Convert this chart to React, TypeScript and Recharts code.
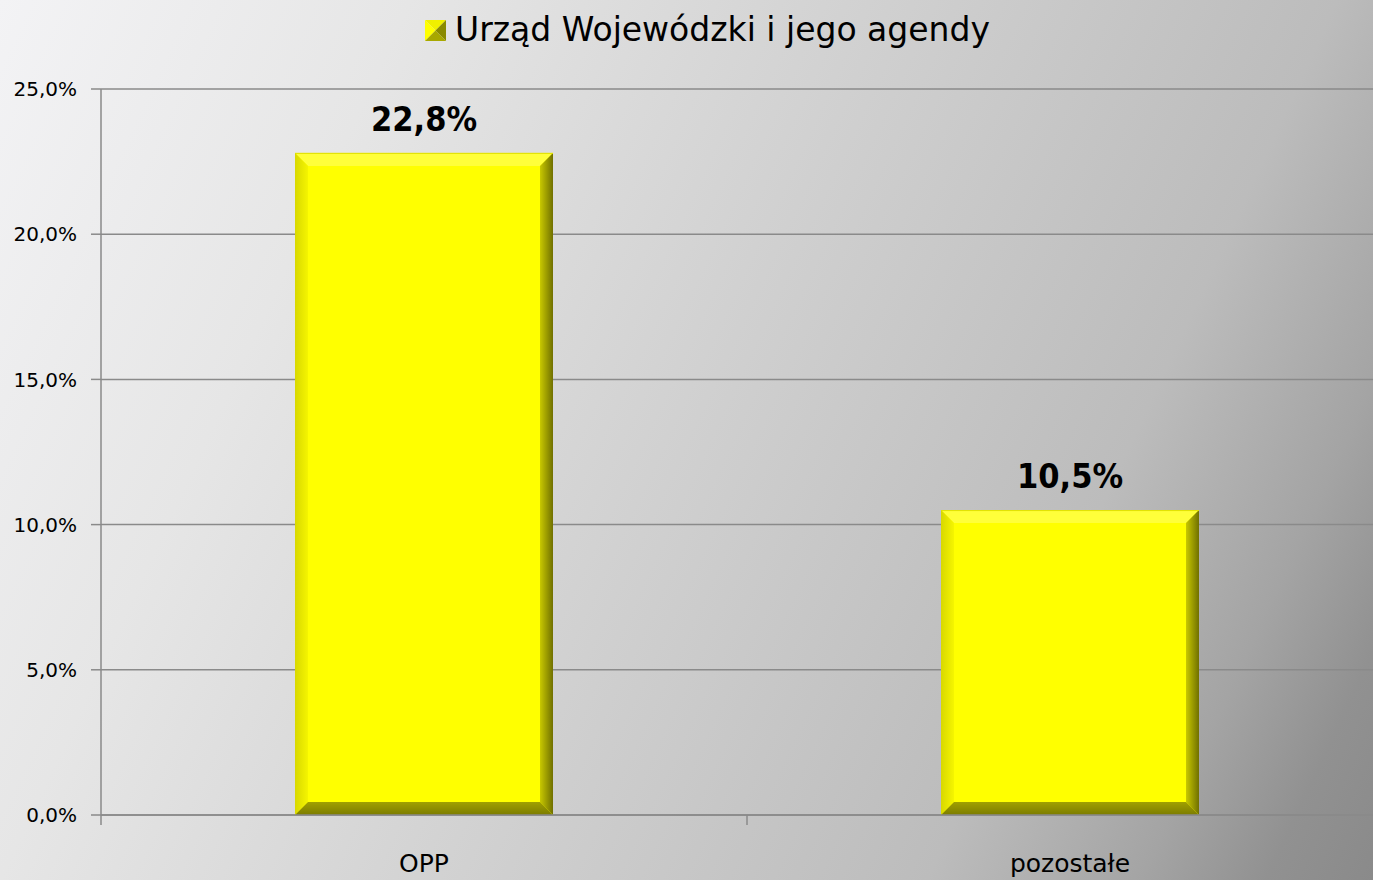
import { BarChart, Bar, XAxis, YAxis, CartesianGrid, Legend, LabelList } from "recharts";

const categories = ["OPP", "pozostałe"];
const values = [22.8, 10.5];
const yTicks = [0, 5, 10, 15, 20, 25];
const seriesName = "Urząd Wojewódzki i jego agendy";

const data = categories.map((name, i) => ({ name, value: values[i] }));

const FONT = "'DejaVu Sans', sans-serif";
const FONT_NARROW = "'DejaVu Sans Condensed', 'DejaVu Sans', sans-serif";
const AXIS = "#8a8a8a";

const pct = (v: number) => v.toFixed(1).replace(".", ",") + "%";

function BevelBar(props: any) {
  const { x, y, width, height } = props;
  if (!height || height <= 0) return null;
  const b = 13;
  const x2 = x + width;
  const y2 = y + height;
  return (
    <g>
      <defs>
        <linearGradient id="bvLeft" x1="0" y1="0" x2="1" y2="0">
          <stop offset="0%" stopColor="#d8d800" />
          <stop offset="100%" stopColor="#f5f500" />
        </linearGradient>
        <linearGradient id="bvRight" x1="0" y1="0" x2="1" y2="0">
          <stop offset="0%" stopColor="#c8c800" />
          <stop offset="100%" stopColor="#707000" />
        </linearGradient>
        <linearGradient id="bvBottom" x1="0" y1="0" x2="0" y2="1">
          <stop offset="0%" stopColor="#a0a000" />
          <stop offset="100%" stopColor="#7c7c00" />
        </linearGradient>
      </defs>
      <rect x={x} y={y} width={width} height={height} fill="#ffff00" />
      <polygon points={`${x},${y} ${x2},${y} ${x2 - b},${y + b} ${x + b},${y + b}`} fill="#ffff3a" />
      <polygon points={`${x},${y} ${x + b},${y + b} ${x + b},${y2 - b} ${x},${y2}`} fill="url(#bvLeft)" />
      <polygon points={`${x2},${y} ${x2},${y2} ${x2 - b},${y2 - b} ${x2 - b},${y + b}`} fill="url(#bvRight)" />
      <polygon points={`${x},${y2} ${x + b},${y2 - b} ${x2 - b},${y2 - b} ${x2},${y2}`} fill="url(#bvBottom)" />
      <line x1={x} y1={y + 0.5} x2={x2} y2={y + 0.5} stroke="#e0e000" />
    </g>
  );
}

function LegendContent() {
  return (
    <div style={{ display: "flex", alignItems: "center", justifyContent: "center", fontFamily: FONT }}>
      <svg width={21} height={21} style={{ marginRight: 9 }}>
        <polygon points="0,0 21,0 10.5,10.5" fill="#f0f000" />
        <polygon points="0,0 10.5,10.5 0,21" fill="#ffff00" />
        <polygon points="21,0 21,21 10.5,10.5" fill="#8a8a00" />
        <polygon points="0,21 10.5,10.5 21,21" fill="#a8a800" />
      </svg>
      <span style={{ fontSize: 33, color: "#000", lineHeight: "40px" }}>{seriesName}</span>
    </div>
  );
}

function CategoryTick(props: any) {
  const { x, y, payload } = props;
  const off = payload && payload.offset ? payload.offset : 323;
  return (
    <g>
      <line x1={x - off} y1={y - 8} x2={x - off} y2={y + 2} stroke={AXIS} strokeWidth={1.5} />
      <text x={x} y={y + 49} textAnchor="middle" fontFamily={FONT} fontSize={25} fill="#000">
        {payload.value}
      </text>
    </g>
  );
}

export default function App() {
  return (
    <div
      style={{
        position: "fixed",
        left: 0,
        top: 0,
        width: 1373,
        height: 880,
        overflow: "hidden",
        background:
          "linear-gradient(115deg, #f3f3f5 0%, #e6e6e6 23%, #d0d0d0 50%, #bcbcbc 75%, #a4a4a4 87%, #919191 94%, #8a8a8a 100%)",
      }}
    >
      <BarChart
        width={1393}
        height={880}
        data={data}
        margin={{ top: 89, right: 0, bottom: 25, left: 0 }}
      >
        <CartesianGrid vertical={false} stroke={AXIS} strokeWidth={1.5} />
        <XAxis
          dataKey="name"
          height={40}
          axisLine={{ stroke: AXIS, strokeWidth: 1.5 }}
          tickLine={false}
          tick={<CategoryTick />}
          interval={0}
        />
        <YAxis
          width={101}
          domain={[0, 25]}
          ticks={yTicks}
          tickFormatter={pct}
          axisLine={{ stroke: AXIS, strokeWidth: 1.5 }}
          tickLine={{ stroke: AXIS, strokeWidth: 1.5 }}
          tickSize={10}
          tickMargin={14}
          tick={{ fill: "#000", fontSize: 20, fontFamily: FONT }}
        />
        <Legend
          verticalAlign="middle"
          align="center"
          layout="horizontal"
          content={<LegendContent />}
          wrapperStyle={{ top: 10, left: 0, width: 1415 }}
        />
        <Bar
          dataKey="value"
          name={seriesName}
          barSize={258}
          shape={<BevelBar />}
          isAnimationActive={false}
        >
          <LabelList
            dataKey="value"
            position="top"
            offset={22}
            formatter={(v: any) => pct(Number(v))}
            style={{ fontSize: 34, fontWeight: "bold", fill: "#000", fontFamily: FONT_NARROW }}
          />
        </Bar>
      </BarChart>
    </div>
  );
}
